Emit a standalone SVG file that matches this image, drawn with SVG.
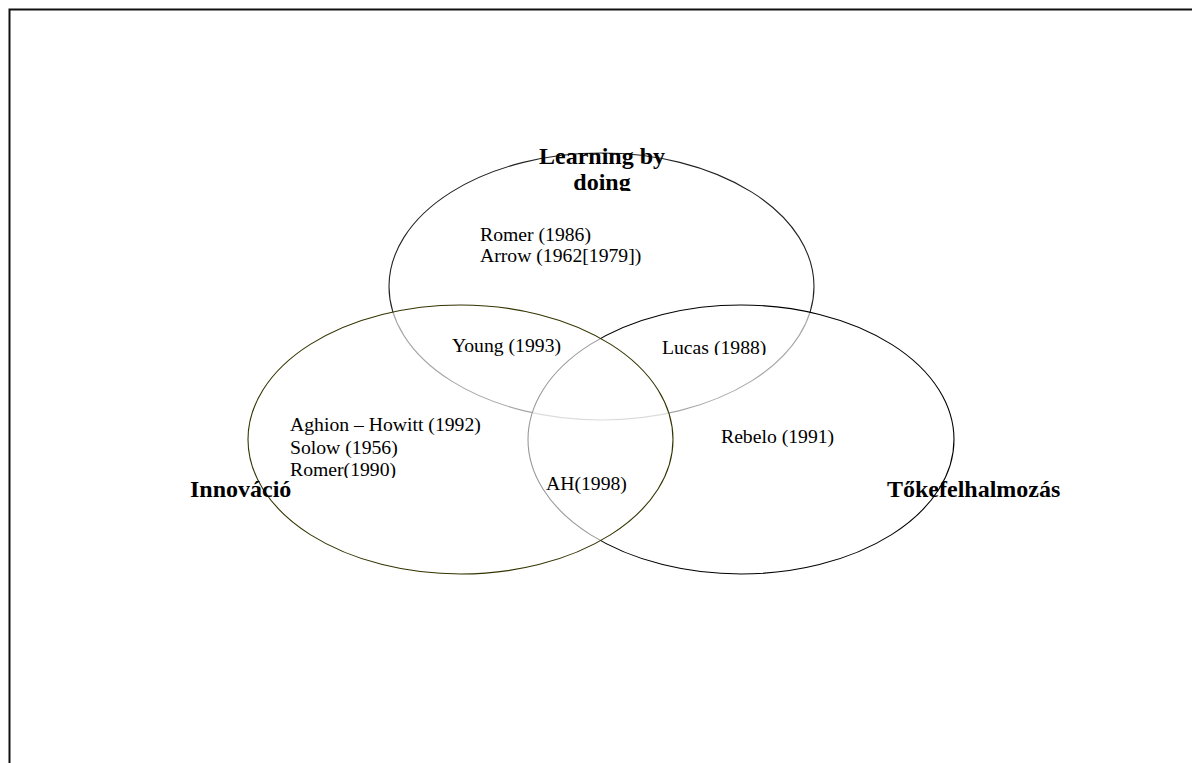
<svg xmlns="http://www.w3.org/2000/svg" width="1192" height="763" viewBox="0 0 1192 763">
<style>
.sh{fill:#fff;fill-opacity:0.6;stroke-width:1.1}
.t{font-family:"Liberation Serif","Times New Roman",serif;font-size:19.7px;fill:#000}
.b{font-family:"Liberation Serif","Times New Roman",serif;font-size:24px;font-weight:bold;fill:#000}
</style>
<defs>
<clipPath id="cDoing"><rect x="500" y="140" width="200" height="51"/></clipPath>
<clipPath id="cLucas"><rect x="640" y="320" width="150" height="35"/></clipPath>
<clipPath id="cLeft"><rect x="280" y="400" width="220" height="78"/></clipPath>
</defs>
<rect width="1192" height="763" fill="#fff"/>
<path d="M9.5,763 V9.5 H1192" fill="none" stroke="#111" stroke-width="2"/>
<g id="learning">
<ellipse class="sh" cx="601.5" cy="286.5" rx="212.5" ry="133.5" stroke="#222"/>
</g>
<g id="tokefelhalmozas">
<ellipse class="sh" cx="741" cy="439.5" rx="213" ry="134.5" stroke="#000"/>
</g>
<g id="innovacio">
<ellipse class="sh" cx="460.5" cy="439.5" rx="212.5" ry="134.5" stroke="#333300"/>
</g>
<g id="labels">
<g clip-path="url(#cDoing)">
<text class="b" x="602" y="164" text-anchor="middle">Learning by</text>
<text class="b" x="602" y="190" text-anchor="middle">doing</text>
</g>
<text class="t" x="480" y="241">Romer (1986)</text>
<text class="t" x="480" y="262">Arrow (1962[1979])</text>
<text class="t" x="452" y="352">Young (1993)</text>
<text class="t" x="662" y="353.5" clip-path="url(#cLucas)">Lucas (1988)</text>
<g clip-path="url(#cLeft)">
<text class="t" x="290" y="431">Aghion – Howitt (1992)</text>
<text class="t" x="290" y="453.5">Solow (1956)</text>
<text class="t" x="290" y="476">Romer(1990)</text>
</g>
<text class="t" x="721" y="443">Rebelo (1991)</text>
<text class="t" x="546" y="489.5">AH(1998)</text>
<text class="b" x="190" y="497">Innováció</text>
<text class="b" x="887" y="497">Tőkefelhalmozás</text>
</g>
</svg>
